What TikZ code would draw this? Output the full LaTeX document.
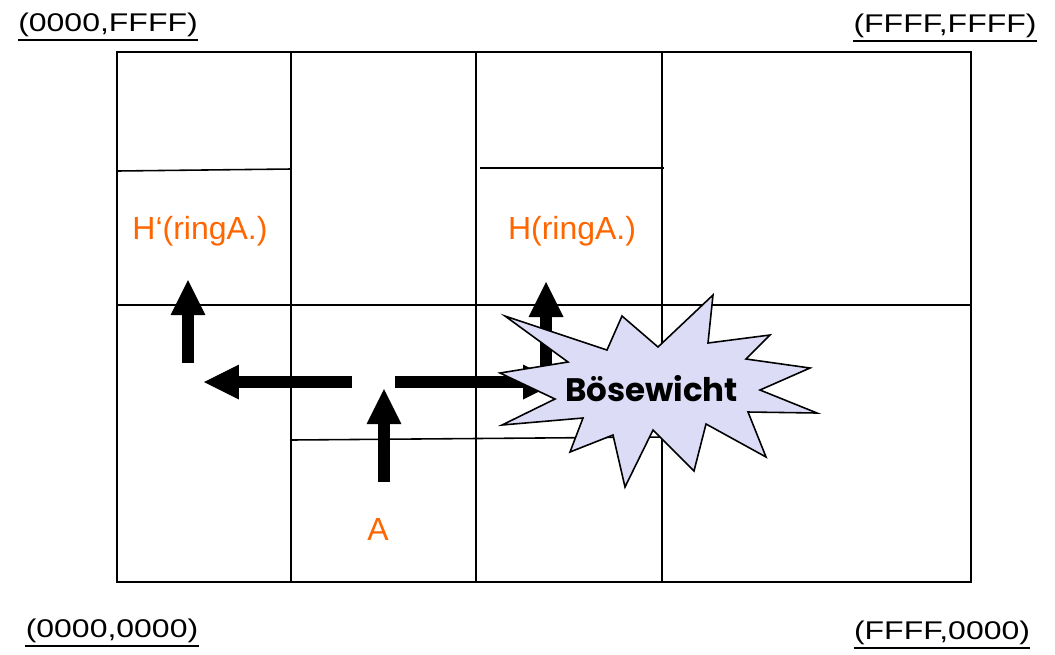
\documentclass[tikz,border=0pt]{standalone}
\usepackage{fontspec}
\setmainfont{Liberation Sans}
\newfontfamily\starfont{Poppins}
\usetikzlibrary{arrows.meta}
\definecolor{labelorange}{RGB}{255,102,0}
\definecolor{blastfill}{RGB}{220,220,246}
\tikzset{
  gridline/.style={line width=0.9pt, black},
  bigarrow/.style={line width=0.24cm, black,
    -{Triangle[length=0.7cm,width=0.7cm,line width=0pt]}},
  cornerlabel/.style={inner sep=0pt, anchor=base,
    font=\fontsize{18.2}{22}\selectfont},
  zonelabel/.style={inner sep=0pt, anchor=base, text=labelorange,
    font=\fontsize{18.2}{22}\selectfont},
  blast/.style={draw=black, line width=0.9pt, fill=blastfill, line join=miter},
}
\begin{document}
\begin{tikzpicture}[x=0.02cm, y=-0.02cm]
\useasboundingbox (0,0) rectangle (1055,654);

% zone boundaries of the coordinate space
\draw[gridline] (117,52) rectangle (971,582);
\draw[gridline] (291,52) -- (291,582);
\draw[gridline] (476,52) -- (476,582);
\draw[gridline] (662,52) -- (662,582);
\draw[gridline] (117,305) -- (971,305);
\draw[gridline] (117,171) -- (291,169);
\draw[gridline] (480,168) -- (664,168);
\draw[gridline] (291,440) -- (662,437);

% corner coordinates
\foreach \nm/\px/\py/\txt in {tl/108/31/{(0000,FFFF)}, tr/945/32/{(FFFF,FFFF)},
                             bl/112/637/{(0000,0000)}, br/942/639/{(FFFF,0000)}} {
  \node[cornerlabel] (\nm) at (\px,\py) {\scalebox{1}[0.8]{\txt}};
  \draw[line width=1.2pt] ([yshift=-9*0.02cm]\nm.base west) -- ([yshift=-9*0.02cm]\nm.base east);
}

% zone labels
\node[zonelabel] (hprime) at (200,239) {H‘(ringA.)};
\node[zonelabel] (h) at (572,239) {H(ringA.)};
\node[zonelabel] (a) at (378,540) {A};

% routing arrows
\coordinate (a1s) at (384,482); \coordinate (a1e) at (384,389);
\coordinate (a2s) at (352,382); \coordinate (a2e) at (204,382);
\coordinate (a3s) at (188,363); \coordinate (a3e) at (188,280);
\coordinate (a4s) at (395,382); \coordinate (a4e) at (558,382);
\coordinate (a5s) at (546,370); \coordinate (a5e) at (546,282);
\draw[bigarrow] (a1s) -- (a1e);
\draw[bigarrow] (a2s) -- (a2e);
\draw[bigarrow] (a3s) -- (a3e);
\draw[bigarrow] (a4s) -- (a4e);
\draw[bigarrow] (a5s) -- (a5e);

% the attacker burst
\draw[blast] (505,316) -- (607,350) -- (622,316) -- (658,347) -- (713,295)
  -- (708,343) -- (770,335) -- (746,359) -- (810,368) -- (760,390)
  -- (817,413) -- (748,412) -- (766,457) -- (706,424) -- (694,471)
  -- (653,430) -- (625,487) -- (613,435) -- (570,452) -- (583,418)
  -- (502,425) -- (555,399) -- (500,373) -- (568,362) -- cycle;
\node[inner sep=0pt, anchor=base] (villain) at (651.5,401)
  {\resizebox{3.46cm}{!}{\starfont\bfseries Bösewicht}};
\end{tikzpicture}
\end{document}
